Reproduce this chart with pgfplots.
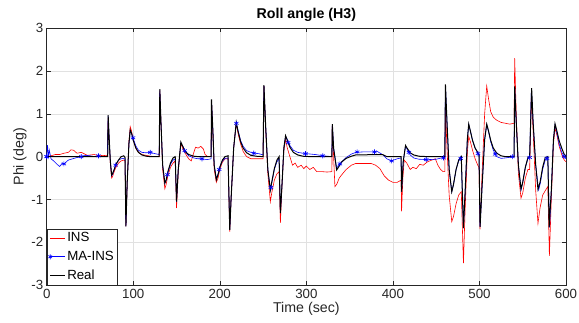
\documentclass[border=0pt]{standalone}
\usepackage{pgfplots}
\pgfplotsset{compat=1.18}
\usepackage{fontspec}
\setmainfont{Liberation Sans}
\definecolor{axc}{RGB}{38,38,38}
\definecolor{gridc}{RGB}{225,225,225}
\begin{document}
\begin{tikzpicture}
\begin{axis}[
  scale only axis, width=519.3pt, height=256.7pt,
  xmin=0, xmax=600, ymin=-3, ymax=3,
  xtick={0,100,...,600}, ytick={-3,-2,...,3},
  grid=major, major grid style={gridc, line width=0.5pt},
  axis line style={axc, line width=0.6pt},
  tick style={axc, line width=0.5pt}, tick align=inside, major tick length=4pt,
  /pgf/number format/assume math mode=true,
  ticklabel style={font=\fontsize{13.3}{15}\selectfont, text=axc},
  xticklabel style={yshift=-1pt},
  xlabel={Time (sec)}, ylabel={Phi (deg)},
  label style={font=\fontsize{14.2}{16}\selectfont, text=axc},
  xlabel style={yshift=4pt},
  ylabel style={yshift=-2pt},
  title={Roll angle (H3)},
  title style={font=\fontsize{14.2}{16}\selectfont\bfseries, text=black, yshift=-3pt},
  legend style={at={(0,0)}, anchor=south west, draw=axc, fill=white,
    font=\fontsize{13.3}{15}\selectfont, inner sep=1.5pt, row sep=4pt},
  legend image post style={xscale=0.85},
  legend cell align=left,
]
% INS
\addplot[red, line width=0.6pt] coordinates {
(0,0) (5,0.02) (10,0.05) (15,0.05) (20,0.08) (25,0.1) (28,0.16) (31,0.15) (35,0.08) (40,0.1) (43,0.07) (47,0.03) (55,0.05) (60,0.02) (65,0.03) (70,0.02)
(71,0.9) (72,0.45) (73.5,-0.15) (75,-0.5) (76,-0.47) (78,-0.35) (80,-0.25) (83,-0.15) (86,-0.1) (89,-0.08) (90.5,-0.1) (91.5,-1.63) (93,-0.6) (95,0.35) (96.5,0.7) (98,0.6) (100,0.4) (103,0.2) (106,0.1) (110,0.05) (115,0.03) (120,0.01) (130,0.0)
(130.7,1.55) (132,0.8) (134,-0.3) (136.5,-0.75) (138,-0.65) (140,-0.45) (143,-0.25) (146,-0.15) (148.5,-0.1) (150,-1.2) (152,-0.35) (155,0.3) (157,0.2) (160,0.08) (164,-0.05) (167,-0.1) (170,0.1) (172,0.22) (175,0.2) (178,0.24) (181,0.18) (183,0.05) (186,0.0) (190,0)
(190.4,1.3) (192,0.55) (193.5,-0.3) (196,-0.6) (198,-0.5) (200,-0.3) (203,-0.13) (206,-0.05) (209.5,-0.05) (211.5,-1.75) (213,-1.0) (216,0.2) (219,0.78) (221,0.55) (224,0.3) (227,0.12) (231,0.0) (236,-0.05) (242,-0.05) (250,-0.05)
(251,1.65) (253,0.65) (255.5,-0.4) (258.4,-1.05) (260,-0.85) (263,-0.55) (266,-0.4) (268.5,-0.35) (270,-1.55) (272,-0.6) (274,0.15) (276,0.4) (278,0.2) (281,0.0) (284,-0.2) (287,-0.15) (290,-0.25) (294,-0.2) (297,-0.28) (300,-0.22) (304,-0.3) (308,-0.25) (312,-0.35) (318,-0.35) (324,-0.36) (329.5,-0.35)
(330,0.76) (331.5,0.0) (333,-0.7) (335,-0.65) (338,-0.5) (341,-0.42) (346,-0.3) (352,-0.2) (357,-0.16) (375,-0.16) (380,-0.2) (385,-0.28) (390,-0.45) (395,-0.55) (400,-0.6) (405,-0.6) (409.5,-0.55)
(410,-1.28) (411.5,-0.5) (413,-0.08) (416,-0.15) (420,-0.3) (423,-0.25) (427,-0.28) (431,-0.18) (435,-0.2) (440,-0.12) (445,-0.08) (449,-0.05) (452,-0.2) (455,-0.3) (458,-0.35) (460,-0.35)
(460.7,1.13) (462.5,0.2) (465,-0.9) (468,-1.52) (470,-1.4) (473,-1.1) (476,-0.9) (479,-0.82) (481.5,-2.49) (483.5,-1.2) (486,0.1) (487.6,0.47) (489.5,0.35) (492,0.15) (495,-0.05) (498,-0.2) (499.5,-0.25) (500.7,-1.7) (503,-0.4) (506,1.0) (508.4,1.65) (510.5,1.35) (513,1.05) (516,0.92) (520,0.85) (525,0.8) (530,0.78) (535,0.76) (540,0.78)
(540.7,2.3) (542.5,1.0) (545,-0.4) (548,-0.97) (550,-0.85) (553,-0.5) (556,-0.3) (558,-0.3) (560,1.45) (562,0.6) (565,-0.8) (567.6,-1.56) (570,-1.2) (573,-0.9) (576.5,-0.78) (579,-0.7) (580.8,-2.32) (583,-1.0) (585.5,0.3) (587.3,0.67) (589.5,0.5) (592,0.25) (595,0.05) (598,-0.08) (600,-0.12)
};
\addlegendentry{INS}
% MA-INS
\addplot[blue, line width=0.6pt, mark=asterisk, mark size=2.5pt, mark indices={1}] coordinates {
(0,0) (1,0.27) (2,0.0) (3,0.15) (5,-0.05) (8,-0.1) (12,-0.18) (15,-0.23) (18,-0.15) (20,-0.17) (25,-0.08) (30,-0.05) (35,-0.02) (40,0.0) (45,0.03) (50,0.02) (55,0.0) (60,0.02) (65,0.0) (70,0)
(71,0.95) (72,0.5) (73.5,-0.1) (75,-0.45) (76,-0.42) (78,-0.3) (80,-0.18) (83,-0.08) (86,-0.05) (89,-0.04) (90.5,-0.06) (91.5,-1.63) (93,-0.6) (95,0.3) (96.5,0.6) (98,0.55) (100,0.42) (103,0.25) (106,0.15) (110,0.1) (115,0.09) (120,0.1) (125,0.07) (130,0.05)
(130.7,1.55) (132,0.8) (134,-0.2) (136.5,-0.62) (138,-0.55) (140,-0.38) (143,-0.18) (146,-0.08) (148.5,-0.05) (150,-1.05) (152,-0.3) (155,0.32) (157,0.25) (160,0.12) (164,0.02) (170,-0.03) (175,-0.05) (180,-0.05) (185,-0.07) (190,-0.05)
(190.4,1.32) (192,0.6) (193.5,-0.2) (196,-0.52) (198,-0.4) (200,-0.24) (203,-0.1) (206,-0.04) (209.5,-0.03) (211.5,-1.7) (213,-1.0) (216,0.2) (219,0.78) (221,0.62) (224,0.38) (227,0.24) (231,0.14) (236,0.1) (240,0.08) (245,0.07) (250,0.04)
(251,1.65) (253,0.7) (255.5,-0.3) (258.4,-0.78) (260,-0.62) (263,-0.3) (266,-0.12) (268.5,-0.05) (270,-1.32) (272,-0.6) (274,0.2) (276,0.48) (278,0.4) (281,0.26) (285,0.15) (290,0.1) (296,0.08) (300,0.07) (310,0.05) (320,0.02) (329.5,0.0)
(330,0.76) (331.5,0.2) (335,-0.28) (337,-0.2) (341,-0.12) (346,-0.02) (352,0.06) (357,0.1) (365,0.11) (375,0.11) (382,0.12) (388,0.05) (393,-0.05) (398,-0.1) (405,-0.05) (409.5,-0.03)
(410,-0.82) (412,-0.1) (414.6,0.25) (417,0.15) (420,0.04) (424,-0.03) (430,-0.06) (440,-0.07) (450,-0.06) (456,-0.03) (460,-0.02)
(460.7,1.67) (462.5,0.8) (465,-0.3) (468,-0.82) (470,-0.65) (473,-0.3) (476,-0.1) (479,-0.03) (481.5,-1.67) (483.5,-0.8) (486,0.4) (487.6,0.75) (489.5,0.6) (492,0.38) (495,0.2) (498,0.08) (499.5,0.03) (500.7,-1.64) (503,-0.7) (506,0.4) (508.4,0.75) (510.5,0.58) (513,0.35) (516,0.15) (520,0.0) (525,-0.04) (530,-0.03) (540,0.0)
(540.7,1.62) (542.5,0.8) (545,-0.2) (548,-0.78) (550,-0.6) (553,-0.25) (556,-0.05) (558,-0.02) (560,1.58) (562,0.8) (565,-0.2) (568.4,-0.78) (570.5,-0.6) (573,-0.3) (576,-0.08) (579,-0.03) (581,-1.65) (583,-0.8) (585.5,0.4) (587.3,0.74) (589.5,0.55) (592,0.3) (595,0.1) (598,0.0) (600,-0.05)
};
\addlegendentry{MA-INS}
% Real
\addplot[black, line width=1.0pt] coordinates {
(0,0) (70.5,0)
(71,0.97) (72,0.5) (73.5,-0.1) (75,-0.43) (76,-0.4) (78,-0.3) (80,-0.18) (83,-0.08) (86,0.0) (89,0.02) (90.5,-0.02) (91.5,-1.63) (93,-0.6) (95,0.3) (96.5,0.62) (98,0.55) (100,0.38) (103,0.2) (106,0.1) (110,0.04) (115,0.01) (120,0) (130,0)
(130.7,1.58) (132,0.8) (134,-0.2) (136.5,-0.62) (138,-0.55) (140,-0.35) (143,-0.15) (146,-0.03) (148.5,0.0) (150,-1.05) (152,-0.3) (155,0.34) (157,0.25) (160,0.12) (164,0.05) (170,0.01) (175,0) (190,0)
(190.4,1.34) (192,0.6) (193.5,-0.2) (196,-0.54) (198,-0.42) (200,-0.25) (203,-0.08) (206,0.0) (209.5,0.02) (211.5,-1.71) (213,-1.0) (216,0.2) (219,0.8) (221,0.6) (224,0.35) (227,0.2) (231,0.09) (236,0.03) (242,0.01) (250,0)
(251,1.67) (253,0.7) (255.5,-0.3) (258.4,-0.78) (260,-0.6) (263,-0.28) (266,-0.08) (268.5,0.0) (270,-1.32) (272,-0.6) (274,0.2) (276,0.49) (278,0.38) (281,0.22) (285,0.1) (290,0.04) (296,0.01) (305,0) (329.5,0)
(330,0.76) (331.5,0.2) (335,-0.31) (337,-0.25) (341,-0.12) (346,-0.04) (352,0.01) (357,0.04) (388,0.05) (393,0.0) (400,0) (409.5,0)
(410,-0.82) (412,-0.1) (414.6,0.26) (417,0.18) (420,0.09) (424,0.04) (430,0.01) (440,0) (460,0)
(460.7,1.69) (462.5,0.8) (465,-0.3) (468,-0.82) (470,-0.65) (473,-0.3) (476,-0.08) (479,0.0) (481.5,-1.67) (483.5,-0.8) (486,0.4) (487.6,0.76) (489.5,0.6) (492,0.38) (495,0.2) (498,0.1) (499.5,0.05) (500.7,-1.64) (503,-0.7) (506,0.4) (508.4,0.76) (510.5,0.6) (513,0.38) (516,0.2) (520,0.08) (525,0.02) (530,0) (540,0)
(540.7,1.64) (542.5,0.8) (545,-0.2) (548,-0.76) (550,-0.6) (553,-0.25) (556,-0.02) (558,0.0) (560.3,1.6) (562,0.8) (565,-0.2) (567.6,-0.76) (570,-0.6) (573,-0.25) (576,-0.02) (579,0.0) (580.5,-1.65) (583,-0.8) (585.5,0.4) (587.3,0.77) (589.5,0.6) (592,0.38) (595,0.2) (598,0.05) (600,0.02)
};
\addlegendentry{Real}
% MA-INS markers
\addplot[blue, only marks, mark=asterisk, mark size=2.5pt, line width=0.6pt, forget plot] coordinates {
(0,0) (19.9,-0.17) (39.9,0.0) (59.8,0.02) (79.7,-0.2) (99.7,0.44) (119.6,0.1) (139.5,-0.42) (159.4,0.14) (179.4,-0.05) (199.3,-0.3) (219.2,0.78) (239.2,0.08) (259.1,-0.72) (279,0.33) (299,0.07) (318.9,0.02) (338.8,-0.17) (358.7,0.11) (378.7,0.11) (398.6,-0.1) (418.5,0.1) (438.5,-0.07) (458.4,-0.03) (478.3,-0.04) (498.3,0.07) (518.2,0.06) (538.1,0.0) (558,-0.02) (578,-0.04) (597.9,0.0)
};
\end{axis}
\pgfresetboundingbox
\path ([shift={(-46.7pt,-37.3pt)}]current axis.south west) rectangle ([shift={(13pt,28.3pt)}]current axis.north east);
\end{tikzpicture}
\end{document}
